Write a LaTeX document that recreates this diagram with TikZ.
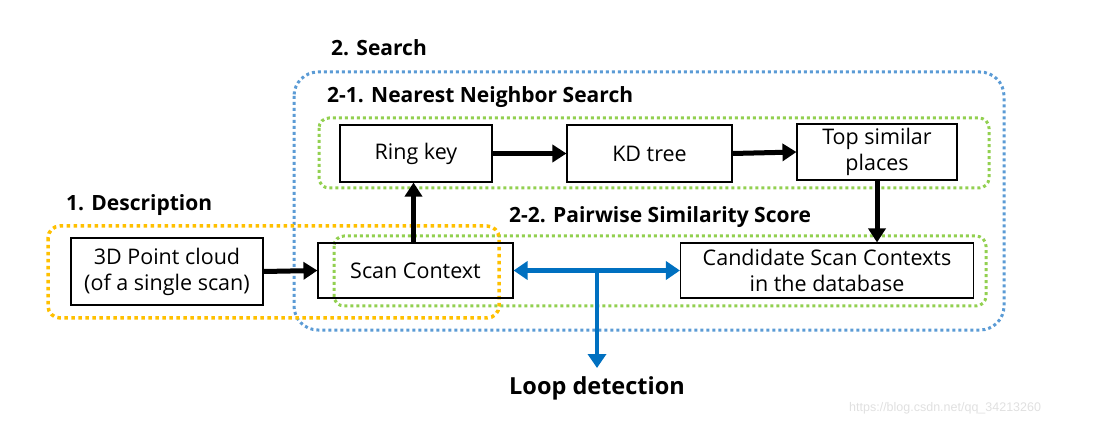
\documentclass[tikz,border=0pt]{standalone}
\usepackage{fontspec}
\setmainfont{Open Sans}
\usetikzlibrary{arrows.meta}
\definecolor{fblue}{HTML}{5B9BD5}
\definecolor{fgreen}{HTML}{92D050}
\definecolor{forange}{HTML}{FFC000}
\definecolor{ablue}{HTML}{0070C0}
\begin{document}
\begin{tikzpicture}[x=1pt,y=-1pt,
  box/.style={draw, line width=1.1pt, inner sep=0pt, align=center, font=\fontsize{21.5}{26}\selectfont},
  frame/.style={line width=3pt, dash pattern=on 3pt off 3pt, line cap=butt},
  lbl/.style={anchor=west, inner sep=0pt, font=\fontsize{21}{25}\selectfont\bfseries},
  blk/.style={line width=5pt, -{Triangle[length=14pt,width=17pt]}},
  blu/.style={ablue, line width=4.5pt}]
\useasboundingbox (0,0) rectangle (1102,427);
% frames
\draw[frame, fblue, rounded corners=24pt] (294,72) rectangle (1004,330);
\draw[frame, fgreen, rounded corners=10pt] (319,118) rectangle (989,188);
\draw[frame, fgreen, rounded corners=10pt] (334,236) rectangle (986,306);
\draw[frame, forange, line width=3.5pt, dash pattern=on 3.5pt off 3.5pt, rounded corners=12pt] (48,226) rectangle (499,318);
% boxes
\node[box, minimum width=192pt, minimum height=67pt] (pc) at (167,271.5) {3D Point cloud\\(of a single scan)};
\node[box, minimum width=195pt, minimum height=55pt] (sc) at (415.5,270.5) {Scan Context};
\node[box, minimum width=152pt, minimum height=57pt] (rk) at (416,153.5) {Ring key};
\node[box, minimum width=165pt, minimum height=57pt] (kd) at (649.5,153.5) {KD tree};
\node[box, minimum width=160pt, minimum height=56pt] (top) at (877,152) {Top similar\\places};
\node[box, minimum width=293pt, minimum height=55pt] (cand) at (827,270.5) {Candidate Scan Contexts\\in the database};
% labels
\node[lbl] (l2) at (331,48) {2. Search};
\node[lbl] (l21) at (327,97) {2-1. Nearest Neighbor Search};
\node[lbl] (l1) at (66,205) {1. Description};
\node[lbl] (l22) at (509,217) {2-2. Pairwise Similarity Score};
% black arrows
\draw[blk] (pc.east) -- (sc.west);
\draw[blk] ([xshift=-2pt]sc.north) -- ([xshift=-2pt]sc.north |- rk.south);
\draw[blk] (rk.east) -- (kd.west);
\draw[blk] (kd.east) -- (top.west);
\draw[blk] (top.south) -- (top.south |- cand.north);
% blue arrows
\coordinate (j) at (597,270.5);
\coordinate (le) at (597,368);
\draw[blu, {Triangle[length=14pt,width=18pt]}-{Triangle[length=14pt,width=18pt]}] (sc.east) -- (cand.west);
\draw[blu, -{Triangle[length=14pt,width=18pt]}] (j) -- (le);
\node[inner sep=0pt, font=\fontsize{23.5}{28}\selectfont\bfseries] (ld) at (597,388) {Loop detection};
\node[inner sep=0pt, anchor=west, text=black!12, font=\fontsize{12.5}{14}\fontspec{Liberation Sans}] (wm) at (849,408) {https://blog.csdn.net/qq\_34213260};
\end{tikzpicture}
\end{document}
